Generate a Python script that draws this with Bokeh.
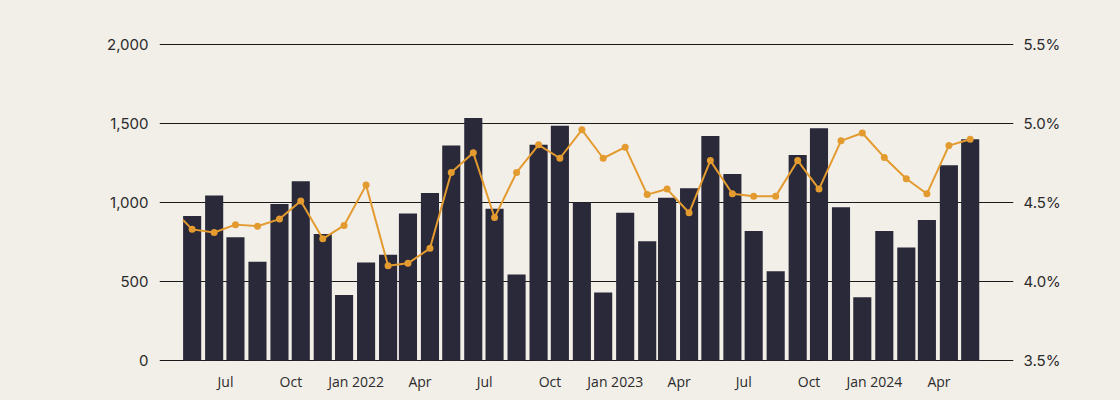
import pandas as pd
from bokeh.plotting import figure
from bokeh.models import (ColumnDataSource, Range1d, LinearAxis, FixedTicker,
                          NumeralTickFormatter, PrintfTickFormatter)
from bokeh.embed import file_html
from bokeh.resources import INLINE

# ---- data ----
first_month = "2021-05-01"
volumes = [915, 1045, 780, 625, 990, 1135, 800, 415, 620, 670, 930, 1060,
           1360, 1535, 960, 545, 1365, 1485, 1000, 430, 935, 755, 1030, 1090,
           1420, 1180, 820, 565, 1300, 1470, 970, 400, 820, 715, 890, 1235, 1400]
rate_start_date = "2021-05-02"
rate_start_value = 4.39
rates = [4.33, 4.31, 4.36, 4.35, 4.395, 4.51, 4.27, 4.355, 4.61, 4.10, 4.115, 4.21,
         4.69, 4.815, 4.405, 4.69, 4.865, 4.78, 4.96, 4.78, 4.85, 4.55, 4.585, 4.435,
         4.765, 4.555, 4.54, 4.54, 4.765, 4.585, 4.89, 4.94, 4.785, 4.65, 4.555, 4.86, 4.90]
tick_dates = ["2021-07-01", "2021-10-01", "2022-01-01", "2022-04-01", "2022-07-01",
              "2022-10-01", "2023-01-01", "2023-04-01", "2023-07-01", "2023-10-01",
              "2024-01-01", "2024-04-01"]
tick_labels = ["Jul", "Oct", "Jan 2022", "Apr", "Jul", "Oct", "Jan 2023", "Apr",
               "Jul", "Oct", "Jan 2024", "Apr"]
left_ticks = [0, 500, 1000, 1500, 2000]
right_ticks = [3.5, 4.0, 4.5, 5.0, 5.5]

BG = "#F2EEE8"
BAR = "#2A2939"
LINE = "#E39B2F"

months = pd.date_range(first_month, periods=len(volumes), freq="MS") + pd.Timedelta(days=14)
bar_src = ColumnDataSource(dict(x=months, top=volumes))
line_x = [pd.Timestamp(rate_start_date)] + list(months)
line_src = ColumnDataSource(dict(x=line_x, y=[rate_start_value] + rates))
pt_src = ColumnDataSource(dict(x=months, y=rates))

x_start = pd.Timestamp("2021-03-30")
x_end = pd.Timestamp("2024-07-15")

p = figure(frame_width=854, frame_height=318, x_axis_type="datetime",
           x_range=(x_start, x_end), y_range=Range1d(-6, 2006),
           output_backend="svg", toolbar_location=None,
           background_fill_color=BG, border_fill_color=BG,
           min_border_left=159, min_border_right=100, min_border_top=43,
           min_border_bottom=36)
p.outline_line_color = None
p.extra_y_ranges = {"rate": Range1d(3.494, 5.506)}

p.vbar(x="x", top="top", width=25.5 * 86400000, source=bar_src,
       fill_color=BAR, line_color=None)
p.line(x="x", y="y", source=line_src, y_range_name="rate",
       line_color=LINE, line_width=2)
p.scatter(x="x", y="y", source=pt_src, y_range_name="rate",
          size=7, fill_color=LINE, line_color=None)

# grid
p.xgrid.visible = False
p.ygrid.ticker = FixedTicker(ticks=left_ticks)
p.ygrid.grid_line_color = "#1a1a1a"
p.ygrid.grid_line_width = 1


def plain(ax, standoff):
    ax.axis_line_color = None
    ax.major_tick_line_color = None
    ax.minor_tick_line_color = None
    ax.major_tick_out = 0
    ax.major_tick_in = 0
    ax.minor_tick_out = 0
    ax.minor_tick_in = 0
    ax.major_label_standoff = standoff
    ax.major_label_text_color = "#2b2b2b"


# x axis
xax = p.xaxis[0]
tick_ms = [pd.Timestamp(d).value // 10**6 for d in tick_dates]
xax.ticker = FixedTicker(ticks=tick_ms)
xax.major_label_overrides = {t: l for t, l in zip(tick_ms, tick_labels)}
plain(xax, 10)
xax.major_label_text_font = "Open Sans"
xax.major_label_text_font_size = "14px"

# left axis
yax = p.yaxis[0]
yax.ticker = FixedTicker(ticks=left_ticks)
yax.formatter = NumeralTickFormatter(format="0,0")
plain(yax, 11)
yax.major_label_text_font = "Inter"
yax.major_label_text_font_size = "15px"

# right axis
rax = LinearAxis(y_range_name="rate", ticker=FixedTicker(ticks=right_ticks),
                 formatter=PrintfTickFormatter(format="%.1f%%"))
plain(rax, 10)
rax.major_label_text_font = "Inter"
rax.major_label_text_font_size = "15px"
p.add_layout(rax, "right")

html = file_html(p, INLINE)
html = html.replace("<head>", "<head><style>body{background:%s;}</style>" % BG, 1)
open("out.html", "w").write(html)
